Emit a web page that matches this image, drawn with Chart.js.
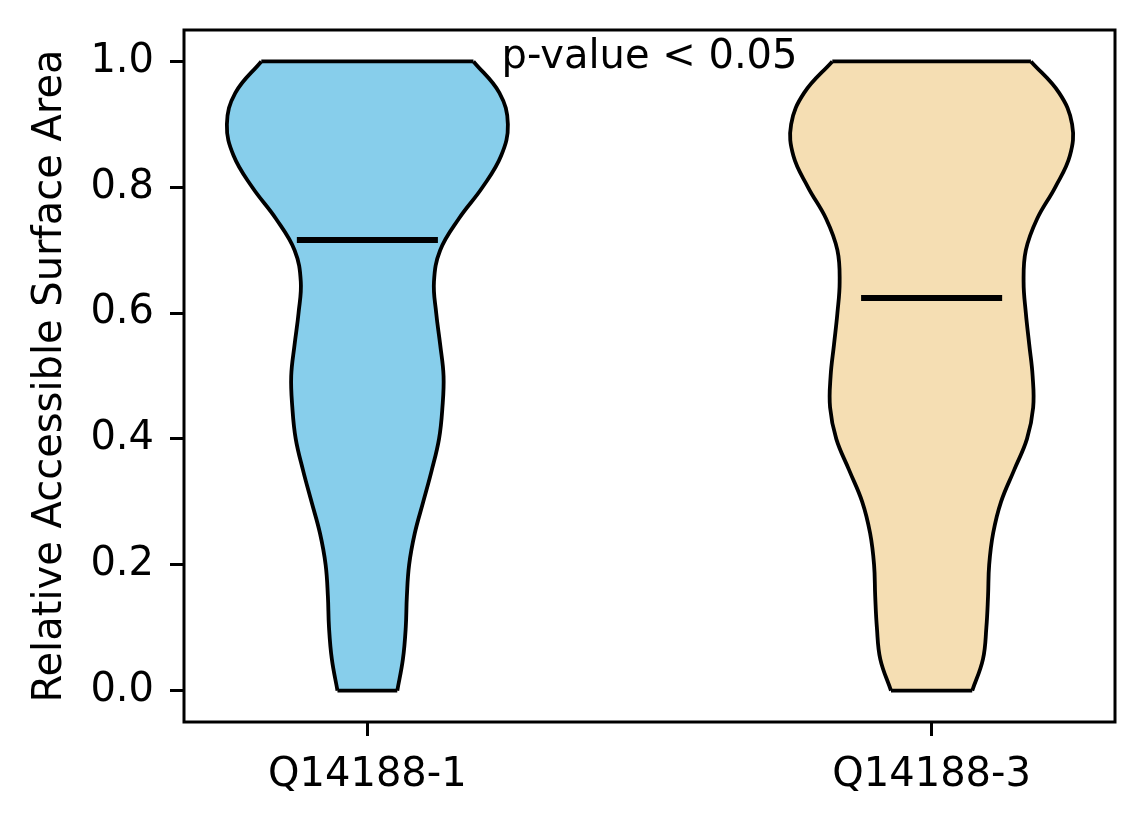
<!DOCTYPE html>
<html>
<head>
<meta charset="utf-8">
<script src="https://cdn.jsdelivr.net/npm/chart.js@4.4.1/dist/chart.umd.min.js"></script>
<style>
  html, body { margin: 0; padding: 0; background: #fff; }
  #wrap { width: 1144px; height: 824px; }
</style>
</head>
<body>
<div id="wrap"><canvas id="violinChart"></canvas></div>
<script>
// --- data ---
const categories = ['Q14188-1', 'Q14188-3'];
const positions = [1, 2];
const medians = [0.716, 0.624];

// RSA levels where the violin outlines were read
const levels = [0, 0.05, 0.1, 0.15, 0.2, 0.25, 0.3, 0.35, 0.4, 0.45, 0.5,
  0.55, 0.6, 0.65, 0.7, 0.75, 0.8, 0.85, 0.9, 0.95, 1.0];

// half widths of each violin at those levels (x units)
const halfWidths1 = [0.053, 0.063, 0.068, 0.07, 0.074, 0.084, 0.099, 0.114, 0.127, 0.133, 0.135,
  0.129, 0.122, 0.118, 0.129, 0.162, 0.204, 0.237, 0.249, 0.234, 0.188];
const halfWidths2 = [0.072, 0.091, 0.097, 0.1, 0.102, 0.109, 0.123, 0.146, 0.169, 0.18, 0.179,
  0.173, 0.167, 0.163, 0.167, 0.187, 0.219, 0.245, 0.249, 0.226, 0.176];

const yTicks = [0, 0.2, 0.4, 0.6, 0.8, 1.0];
const pValueText = 'p-value < 0.05';
const pValueAt = [1.5, 0.99];

const fillColors = ['#87ceeb', '#f5deb3'];
const medianSpan = 0.125;   // half length of the median bar
const FONT = '"DejaVu Sans", sans-serif';

// =========================
// build the violin datasets
// =========================
function violinDatasets(pos, widths, color) {
  const left = levels.map((y, i) => ({ x: pos - widths[i], y: y }));
  const right = levels.map((y, i) => ({ x: pos + widths[i], y: y }));
  const last = levels.length - 1;
  const edge = {
    borderColor: '#000', borderWidth: 3.8, pointRadius: 0,
    tension: 0.4, order: 2
  };
  const cap = { borderColor: '#000', borderWidth: 3.8, pointRadius: 0, tension: 0, fill: false, order: 1 };
  return [
    { ...edge, data: left, fill: false },
    { ...edge, data: right, fill: '-1', backgroundColor: color },
    { ...cap, data: [left[0], right[0]] },
    { ...cap, data: [left[last], right[last]] }
  ];
}

const datasets = [
  ...violinDatasets(positions[0], halfWidths1, fillColors[0]),
  ...violinDatasets(positions[1], halfWidths2, fillColors[1])
];

medians.forEach((m, i) => {
  datasets.push({
    data: [{ x: positions[i] - medianSpan, y: m }, { x: positions[i] + medianSpan, y: m }],
    borderColor: '#000', borderWidth: 6, pointRadius: 0, tension: 0, fill: false, order: 0
  });
});

// frame + p-value label
const framePlugin = {
  id: 'frame',
  afterDatasetsDraw(chart) {
    const { ctx, chartArea: a, scales } = chart;
    ctx.save();
    ctx.strokeStyle = '#000';
    ctx.lineWidth = 3;
    ctx.strokeRect(a.left, a.top, a.right - a.left, a.bottom - a.top);
    ctx.font = '40px ' + FONT;
    ctx.fillStyle = '#000';
    ctx.textAlign = 'center';
    ctx.textBaseline = 'alphabetic';
    ctx.fillText(pValueText, scales.x.getPixelForValue(pValueAt[0]), scales.y.getPixelForValue(pValueAt[1]));
    ctx.restore();
  }
};

function noPad(s) {
  s.paddingTop = 0; s.paddingBottom = 0; s.paddingLeft = 0; s.paddingRight = 0;
}

const ctx = document.getElementById('violinChart').getContext('2d');
new Chart(ctx, {
  type: 'line',
  data: { datasets: datasets },
  options: {
    indexAxis: 'y',
    responsive: true,
    maintainAspectRatio: false,
    animation: false,
    layout: { padding: { top: 30, right: 29, left: 0, bottom: 0 } },
    plugins: { legend: { display: false }, tooltip: { enabled: false } },
    scales: {
      x: {
        type: 'linear',
        min: 0.675,
        max: 2.325,
        afterFit: (s) => { s.height = 102; noPad(s); },
        afterBuildTicks: (s) => { s.ticks = positions.map((p) => ({ value: p })); },
        border: { display: false },
        grid: { display: true, drawOnChartArea: false, tickLength: 14, tickWidth: 3, tickColor: '#000' },
        ticks: {
          autoSkip: false, maxRotation: 0, padding: 16, color: '#000',
          font: { family: FONT, size: 40 },
          callback: (v) => categories[positions.indexOf(v)]
        }
      },
      y: {
        type: 'linear',
        min: -0.05,
        max: 1.05,
        afterFit: (s) => { s.width = 184; noPad(s); },
        afterBuildTicks: (s) => { s.ticks = yTicks.map((v) => ({ value: v })); },
        border: { display: false },
        grid: { display: true, drawOnChartArea: false, tickLength: 14, tickWidth: 3, tickColor: '#000' },
        ticks: {
          padding: 16, color: '#000',
          font: { family: FONT, size: 40 },
          callback: (v) => Number(v).toFixed(1)
        },
        title: {
          display: true,
          text: 'Relative Accessible Surface Area',
          color: '#000',
          font: { family: FONT, size: 40, lineHeight: 1.2 },
          padding: { top: 27, bottom: 0 }
        }
      }
    }
  },
  plugins: [framePlugin]
});
</script>
</body>
</html>
